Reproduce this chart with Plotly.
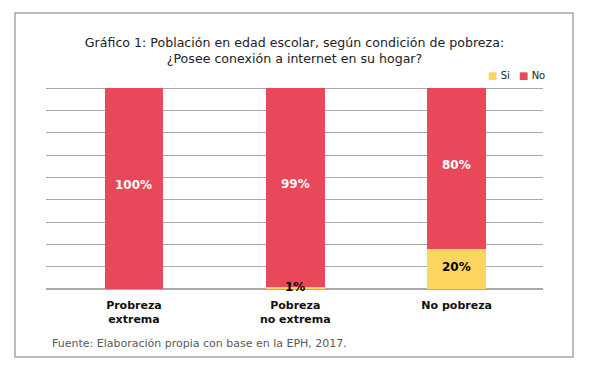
import plotly.graph_objects as go

categories = ["Probreza<br>extrema", "Pobreza<br>no extrema", "No pobreza"]
si_values = [0, 1, 20]
no_values = [100, 99, 80]
series_names = ["Si", "No"]
color_si = "#FFD561"
color_no = "#E8485A"

FONT = "DejaVu Sans"
W, H = 589, 371
ML, MR, MT, MB = 46, 46, 86, 82
Y_MAX = 101

x_idx = list(range(len(categories)))

fig = go.Figure()
fig.add_trace(go.Bar(x=x_idx, y=si_values, name=series_names[0], marker=dict(color=color_si, line=dict(width=0)),
                     width=0.363, hoverinfo="skip", showlegend=False))
fig.add_trace(go.Bar(x=x_idx, y=no_values, name=series_names[1], marker=dict(color=color_no, line=dict(width=0)),
                     width=0.363, hoverinfo="skip", showlegend=False))

pw = W - ML - MR
ph = H - MT - MB


def px_x(x):
    return (x - ML) / pw


def px_y(y):
    return (H - MB - y) / ph


annotations = []
for i, (s, n) in enumerate(zip(si_values, no_values)):
    annotations.append(dict(x=i, y=s + n / 2 + 1.8, xref="x", yref="y", text=f"<b>{n}%</b>", showarrow=False,
                            font=dict(family=FONT, size=12, color="white")))
    if s > 0:
        ys = s / 2 + 0.8 if s >= 5 else s
        annotations.append(dict(x=i, y=ys, xref="x", yref="y", text=f"<b>{s}%</b>", showarrow=False,
                                font=dict(family=FONT, size=12, color="black")))

# legend (custom, compact)
legend_x = [486, 517]
for name, col, lx in zip(series_names, [color_si, color_no], legend_x):
    annotations.append(dict(x=px_x(lx), y=px_y(75.5), xref="paper", yref="paper", xanchor="left", yanchor="middle",
                            text=f"<span style='color:{col}'>■</span> {name}", showarrow=False,
                            font=dict(family=FONT, size=10, color="#222222")))

annotations.append(dict(x=px_x(50), y=px_y(343), xref="paper", yref="paper", xanchor="left", yanchor="middle",
                        text="Fuente: Elaboración propia con base en la EPH, 2017.", showarrow=False,
                        font=dict(family=FONT, size=11, color="#595959")))

fig.update_layout(
    width=W, height=H,
    margin=dict(l=ML, r=MR, t=MT, b=MB),
    paper_bgcolor="white", plot_bgcolor="white",
    barmode="stack", bargap=0,
    title=dict(text="Gráfico 1: Población en edad escolar, según condición de pobreza:<br>¿Posee conexión a internet en su hogar?",
               x=0.5, xanchor="center", y=1 - 47 / H, yanchor="top", yref="container",
               font=dict(family=FONT, size=12.6, color="#222222")),
    showlegend=False,
    xaxis=dict(tickmode="array", tickvals=x_idx, ticktext=[f"<b>{c}</b>" for c in categories],
               range=[-0.545, 2.535], showgrid=False, zeroline=False, showline=False, ticks="",
               ticklabelstandoff=8,
               tickfont=dict(family=FONT, size=11, color="#111111")),
    yaxis=dict(range=[0, Y_MAX], dtick=100 / 9, tick0=0, showticklabels=False, showgrid=True,
               gridcolor="#AAAAAA", gridwidth=1.3, zeroline=True, zerolinecolor="#AAAAAA", zerolinewidth=1.5,
               ticks=""),
    annotations=annotations,
    shapes=[dict(type="rect", xref="paper", yref="paper",
                 x0=px_x(15), x1=px_x(573), y0=px_y(357), y1=px_y(13),
                 line=dict(color="#A6A6A6", width=1.5), fillcolor="rgba(0,0,0,0)", layer="below")],
)
fig.write_html("out.html", config={"displayModeBar": False},
               post_script="document.body.style.margin='0';")
